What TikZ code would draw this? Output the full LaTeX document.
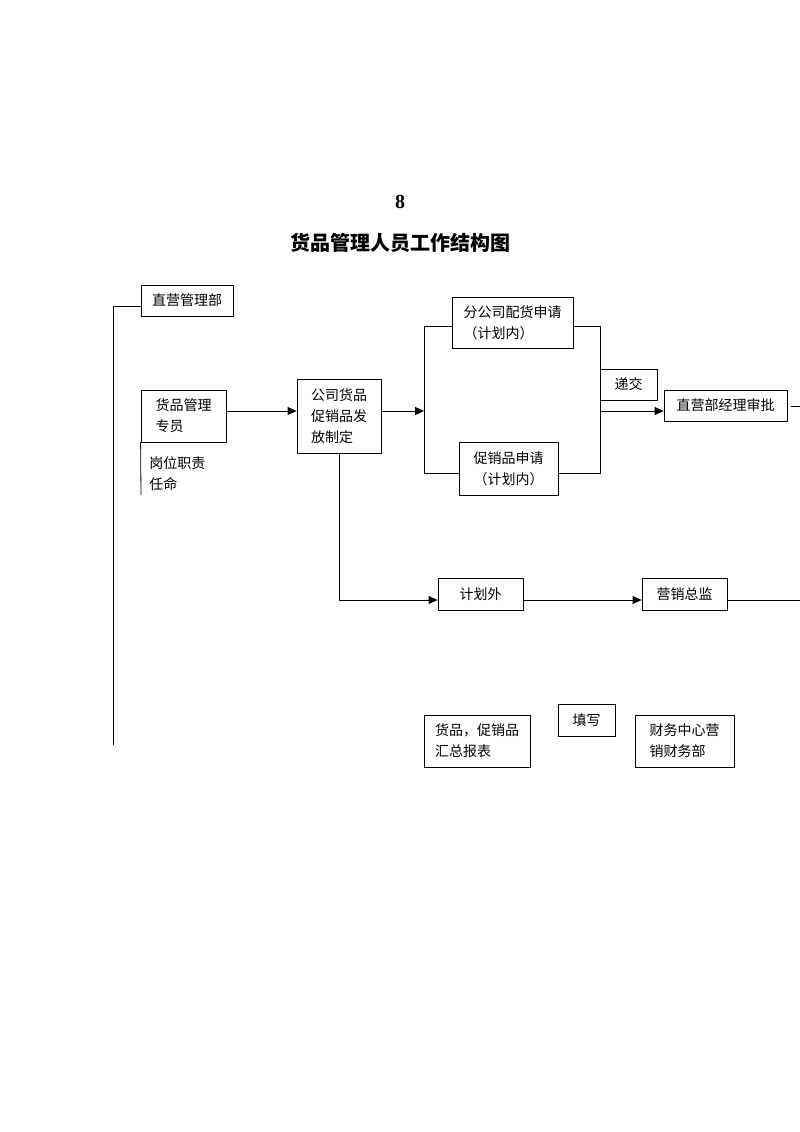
\documentclass[tikz,border=0pt]{standalone}
\usepackage{fontspec}
\setmainfont{Liberation Serif}
\newfontfamily\cjk{Noto Sans CJK SC}
\usetikzlibrary{arrows.meta}

\begin{document}
\begin{tikzpicture}[x=1pt,y=-1pt,line width=0.8pt,
    box/.style 2 args={draw,minimum width=#1pt,minimum height=#2pt,inner sep=2pt},
    >={Triangle[length=9pt,width=8pt]}]
  \useasboundingbox (0,0) rectangle (800,1132);
  % title
  \node[font=\fontsize{20}{24}\selectfont\bfseries] (num) at (400,202) {8};
  \node[font=\cjk\fontsize{20}{24}\selectfont\bfseries] (title) at (400,243) {货品管理人员工作结构图};
  % boxes
  \draw[align=left,font=\cjk\fontsize{14}{21}\selectfont]
    (187,300.5) node[box={92}{31}] (zyb){直营管理部}
    (183.5,416) node[box={85}{52}] (zy){货品管理\\专员}
    (339,416) node[box={84}{74}] (fz){公司货品\\促销品发\\放制定}
    (512.5,322.5) node[box={121}{51}] (fgs){分公司配货申请\\（计划内）}
    (508.5,468.5) node[box={99}{53}] (cx){促销品申请\\（计划内）}
    (628.5,384.5) node[box={57}{31}] (dj){递交}
    (725.5,405.5) node[box={123}{31}] (sp){直营部经理审批}
    (480.5,594) node[box={85}{32}] (jhw){计划外}
    (684.5,594) node[box={85}{32}] (yx){营销总监}
    (477,741) node[box={106}{52}] (hz){货品，促销品\\汇总报表}
    (586.5,720) node[box={57}{32}] (tx){填写}
    (684.5,741) node[box={99}{52}] (cw){财务中心营\\销财务部}
    (148,474) node[anchor=west,inner sep=1pt] (gw){岗位职责\\任命};
  % bend points
  \coordinate (lt) at (113,306);
  \coordinate (lb) at (113,745);
  \coordinate (ya) at (0,411);
  \coordinate (yb) at (0,600);
  \coordinate (bt) at (424,326);
  \coordinate (bb) at (424,473);
  \coordinate (rt) at (600,326);
  \coordinate (rb) at (600,473);
  \coordinate (ra) at (600,411);
  \coordinate (gwb) at (141,495);
  \coordinate (e1) at (800,406);
  \coordinate (e2) at (800,600);
  \draw (lb) -- (lt) -- (lt -| zyb.west);
  \draw (zy.south west) -- (gwb);
  \draw (fgs.west |- bt) -- (bt) -- (bb) -- (cx.west |- bb);
  \draw (fgs.east |- rt) -- (rt) -- (rb) -- (cx.east |- rb);
  \draw ([xshift=4pt]sp.east |- e1) -- (e1);
  \draw (yx.east |- yb) -- (e2);
  \begin{scope}[->]
    \draw (zy.east |- ya) -- (fz.west |- ya);
    \draw (fz.east |- ya) -- (bt |- ya);
    \draw (ra) -- (sp.west |- ra);
    \draw (fz.south) |- (jhw.west |- yb);
    \draw (jhw.east |- yb) -- (yx.west |- yb);
  \end{scope}
\end{tikzpicture}
\end{document}
